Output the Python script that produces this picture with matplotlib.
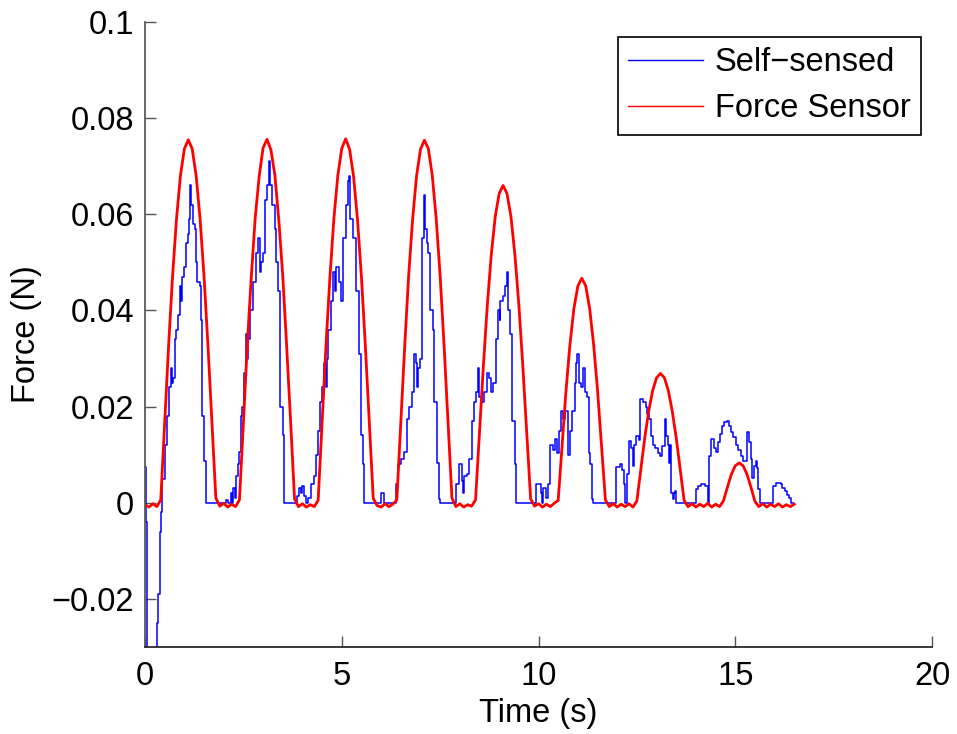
import numpy as np
import matplotlib
matplotlib.use("Agg")
import matplotlib.pyplot as plt
from matplotlib.ticker import FixedLocator, FixedFormatter

plt.rcParams['font.family'] = ['Liberation Sans', 'DejaVu Sans']

# ---------------- data ----------------
# Force sensor, sampled every 0.1 s starting at t = 0
force_sensor = [
    -0.0004, -0.0009, -0.0002, -0.0008, 0.0006,
    0.0168, 0.0327, 0.0471, 0.0590, 0.0680, 0.0736, 0.0755, 0.0736, 0.0680, 0.0590, 0.0471, 0.0327, 0.0168,
    0.0010, -0.0007, -0.0001, -0.0009, -0.0003, -0.0008, 0.0006,
    0.0165, 0.0330, 0.0468, 0.0592, 0.0678, 0.0738, 0.0756, 0.0734, 0.0682, 0.0588, 0.0473, 0.0325, 0.0170,
    0.0008, -0.0008, -0.0002, -0.0009, -0.0004, -0.0008, 0.0005,
    0.0166, 0.0328, 0.0470, 0.0591, 0.0681, 0.0737, 0.0757, 0.0735, 0.0679, 0.0589, 0.0470, 0.0326, 0.0167,
    0.0009, -0.0006, -0.0009, -0.0002, -0.0008, -0.0003, 0.0006,
    0.0167, 0.0326, 0.0472, 0.0589, 0.0679, 0.0735, 0.0754, 0.0737, 0.0681, 0.0591, 0.0472, 0.0328, 0.0169,
    0.0010, -0.0008, -0.0002, -0.0009, -0.0004, -0.0007, 0.0006,
    0.0147, 0.0286, 0.0412, 0.0516, 0.0595, 0.0643, 0.0660, 0.0643, 0.0595, 0.0516, 0.0412, 0.0286, 0.0147,
    0.0008, -0.0007, -0.0002, -0.0009, -0.0003, -0.0008, -0.0001, 0.0005,
    0.0121, 0.0234, 0.0330, 0.0404, 0.0451, 0.0467, 0.0451, 0.0404, 0.0330, 0.0234, 0.0121,
    0.0006, -0.0008, -0.0002, -0.0009, -0.0003, -0.0008, -0.0002, -0.0009, 0.0004,
    0.0070, 0.0135, 0.0190, 0.0233, 0.0260, 0.0269, 0.0260, 0.0233, 0.0190, 0.0135, 0.0070,
    0.0005, -0.0008, -0.0002, -0.0009, -0.0003, -0.0008, -0.0001, -0.0009, -0.0003, -0.0008, 0.0004,
    0.0032, 0.0059, 0.0077, 0.0083, 0.0077, 0.0059, 0.0032,
    0.0003, -0.0008, -0.0002, -0.0009, -0.0003, -0.0008, -0.0002, -0.0009, -0.0004, -0.0008, -0.0003,
]
sensor_dt = 0.1

# Self-sensed force: step changes (time in s, value in N from that time on)
self_t = [
    0.00, 0.03, 0.05, 0.31, 0.34, 0.37, 0.41, 0.44, 0.51, 0.57, 0.61, 0.65, 0.69, 0.72, 0.75, 0.80,
    0.85, 0.88, 0.92, 0.95, 0.99, 1.04, 1.08, 1.12, 1.15, 1.18, 1.21, 1.26, 1.29, 1.32, 1.39, 1.42,
    1.45, 1.50, 1.54,
    2.05, 2.10, 2.18, 2.22, 2.24, 2.28, 2.32, 2.36, 2.39, 2.43, 2.47, 2.51, 2.57, 2.60, 2.63, 2.68,
    2.74, 2.81, 2.88, 2.92, 2.95, 3.00, 3.05, 3.11, 3.15, 3.18, 3.24, 3.30, 3.34, 3.38, 3.43, 3.50, 3.54,
    3.87, 3.92, 3.96, 4.00, 4.05, 4.08, 4.15, 4.22, 4.30, 4.35, 4.39, 4.45, 4.51, 4.56, 4.59, 4.62,
    4.66, 4.72, 4.78, 4.82, 4.85, 4.93, 4.99, 5.04, 5.10, 5.16, 5.19, 5.22, 5.29, 5.36, 5.43, 5.49,
    5.53, 5.57,
    6.00, 6.08, 6.38, 6.42, 6.50, 6.59, 6.66, 6.72, 6.79, 6.84, 6.89, 6.92, 6.95, 6.99, 7.03, 7.05,
    7.08, 7.12, 7.16, 7.19, 7.25, 7.32, 7.35, 7.41, 7.46, 7.50,
    7.91, 7.97, 8.05, 8.08, 8.10, 8.19, 8.24, 8.30, 8.37, 8.41, 8.45, 8.50, 8.56, 8.62, 8.68, 8.73,
    8.79, 8.85, 8.91, 8.97, 9.01, 9.03, 9.10, 9.15, 9.19, 9.22, 9.28, 9.33, 9.39, 9.43,
    9.94, 10.06, 10.09, 10.12, 10.20, 10.25, 10.30, 10.36, 10.42, 10.47, 10.53, 10.57, 10.63, 10.68,
    10.74, 10.80, 10.86, 10.92, 10.96, 10.99, 11.02, 11.07, 11.13, 11.18, 11.24, 11.28, 11.32, 11.36,
    11.38,
    11.98, 12.06, 12.13, 12.18, 12.20, 12.24, 12.31, 12.36, 12.40, 12.43, 12.49, 12.55, 12.59, 12.66,
    12.72, 12.76, 12.82, 12.85, 12.92, 12.96, 13.03, 13.09, 13.15, 13.21, 13.25, 13.29, 13.31, 13.33,
    13.37, 13.41, 13.44, 13.47, 13.49,
    14.00, 14.06, 14.13, 14.24, 14.30, 14.34, 14.39, 14.47, 14.51, 14.55, 14.61, 14.66, 14.72, 14.78,
    14.83, 14.89, 14.94, 15.01, 15.08, 15.14, 15.20, 15.30, 15.35, 15.39, 15.43, 15.48, 15.52, 15.56,
    15.59, 15.62,
    15.95, 16.03, 16.15, 16.20, 16.26, 16.32, 16.37, 16.41, 16.46,
]
self_v = [
    0.0075, -0.004, -0.035, -0.025, -0.019, -0.006, -0.002, 0.005, 0.012, 0.018, 0.024, 0.028, 0.025, 0.026, 0.034, 0.036,
    0.039, 0.045, 0.042, 0.047, 0.049, 0.054, 0.056, 0.059, 0.066, 0.062, 0.058, 0.057, 0.050, 0.046, 0.045, 0.038,
    0.018, 0.0087, 0.0,
    0.0005, 0.0, 0.002, 0.0, 0.003, 0.001, 0.0055, 0.008, 0.0105, 0.018, 0.020, 0.027, 0.035, 0.030, 0.034, 0.040,
    0.046, 0.052, 0.055, 0.048, 0.050, 0.052, 0.063, 0.066, 0.071, 0.066, 0.062, 0.057, 0.050, 0.044, 0.020, 0.014, 0.0,
    0.0015, 0.003, 0.002, 0.0035, 0.0015, 0.0, 0.001, 0.004, 0.0055, 0.010, 0.015, 0.021, 0.024, 0.029, 0.024, 0.030,
    0.036, 0.042, 0.048, 0.044, 0.049, 0.046, 0.042, 0.055, 0.062, 0.067, 0.068, 0.059, 0.055, 0.044, 0.031, 0.014,
    0.008, 0.0,
    0.002, 0.0, 0.004, 0.008, 0.009, 0.0105, 0.0174, 0.020, 0.023, 0.031, 0.029, 0.024, 0.028, 0.030, 0.039, 0.055,
    0.064, 0.057, 0.054, 0.052, 0.040, 0.036, 0.021, 0.0083, 0.0007, 0.0,
    0.004, 0.008, 0.0045, 0.002, 0.0055, 0.006, 0.009, 0.017, 0.021, 0.023, 0.028, 0.022, 0.021, 0.023, 0.027, 0.026,
    0.023, 0.025, 0.034, 0.040, 0.038, 0.042, 0.043, 0.045, 0.048, 0.040, 0.035, 0.017, 0.008, 0.0,
    0.004, 0.002, 0.0, 0.003, 0.001, 0.004, 0.012, 0.011, 0.0132, 0.0104, 0.015, 0.019, 0.0174, 0.019,
    0.010, 0.015, 0.019, 0.025, 0.029, 0.031, 0.025, 0.024, 0.028, 0.023, 0.022, 0.0104, 0.008, 0.0007,
    0.0,
    0.0074, 0.008, 0.0069, 0.004, 0.0, 0.006, 0.0128, 0.0114, 0.0076, 0.012, 0.0139, 0.013, 0.0215, 0.021,
    0.020, 0.0184, 0.0174, 0.0139, 0.012, 0.0114, 0.0104, 0.0097, 0.0118, 0.0174, 0.0139, 0.012, 0.0083, 0.012,
    0.0021, 0.0007, 0.002, 0.0024, 0.0,
    0.0028, 0.0035, 0.0038, 0.0035, 0.0, 0.0098, 0.0133, 0.0114, 0.0105, 0.0126, 0.0142, 0.016, 0.0168, 0.017,
    0.016, 0.0147, 0.0136, 0.012, 0.011, 0.0097, 0.0087, 0.0147, 0.0126, 0.009, 0.0052, 0.0077, 0.0087, 0.0073,
    0.0028, 0.0,
    0.0035, 0.0042, 0.0038, 0.0031, 0.0024, 0.0017, 0.001, 0.0, 0.0,
]

x_ticks = [0, 5, 10, 15, 20]
y_ticks = [-0.02, 0, 0.02, 0.04, 0.06, 0.08, 0.1]
y_tick_labels = ['\u22120.02', '0', '0.02', '0.04', '0.06', '0.08', '0.1']
series_names = ['Self\u2212sensed', 'Force Sensor']

# ---------------- plot ----------------
FS = 23.5
fig = plt.figure(figsize=(9.57, 7.34), dpi=100)
ax = fig.add_axes([0.15152, 0.11853, 0.82236, 0.85150])

sensor_t = np.arange(len(force_sensor)) * sensor_dt
ax.plot(self_t, self_v, color='#0000ff', lw=1.1, drawstyle='steps-post', label=series_names[0])
ax.plot(sensor_t, force_sensor, color='#ff0000', lw=2.0, label=series_names[1])

ax.set_xlim(0, 20)
ax.set_ylim(-0.03, 0.1)
ax.xaxis.set_major_locator(FixedLocator(x_ticks))
ax.yaxis.set_major_locator(FixedLocator(y_ticks))
ax.yaxis.set_major_formatter(FixedFormatter(y_tick_labels))

for s in ['top', 'right']:
    ax.spines[s].set_visible(False)
ax.spines['left'].set_color('#5a5a5a')
ax.spines['bottom'].set_color('#2a2a2a')
for s in ['left', 'bottom']:
    ax.spines[s].set_linewidth(1.3)

ax.tick_params(axis='both', direction='in', length=8, width=1.0, color='#555555',
               labelsize=FS, labelcolor='black')
ax.tick_params(axis='y', pad=8)
ax.tick_params(axis='x', pad=10)

ax.set_xlabel('Time (s)', fontsize=FS)
ax.set_ylabel('Force (N)', fontsize=FS)
ax.xaxis.set_label_coords(0.5, -0.081)
ax.yaxis.set_label_coords(-0.131, 0.5)

leg = ax.legend(loc='upper right', bbox_to_anchor=(0.9857, 0.976), fontsize=FS,
                frameon=True, fancybox=False, edgecolor='black', framealpha=1,
                handlelength=2.3, handletextpad=0.35, borderpad=0.32, labelspacing=0.45,
                borderaxespad=0)
leg.get_frame().set_linewidth(1.2)
for line in leg.get_lines():
    line.set_linewidth(1.0)

fig.savefig('out.png', dpi=100)
